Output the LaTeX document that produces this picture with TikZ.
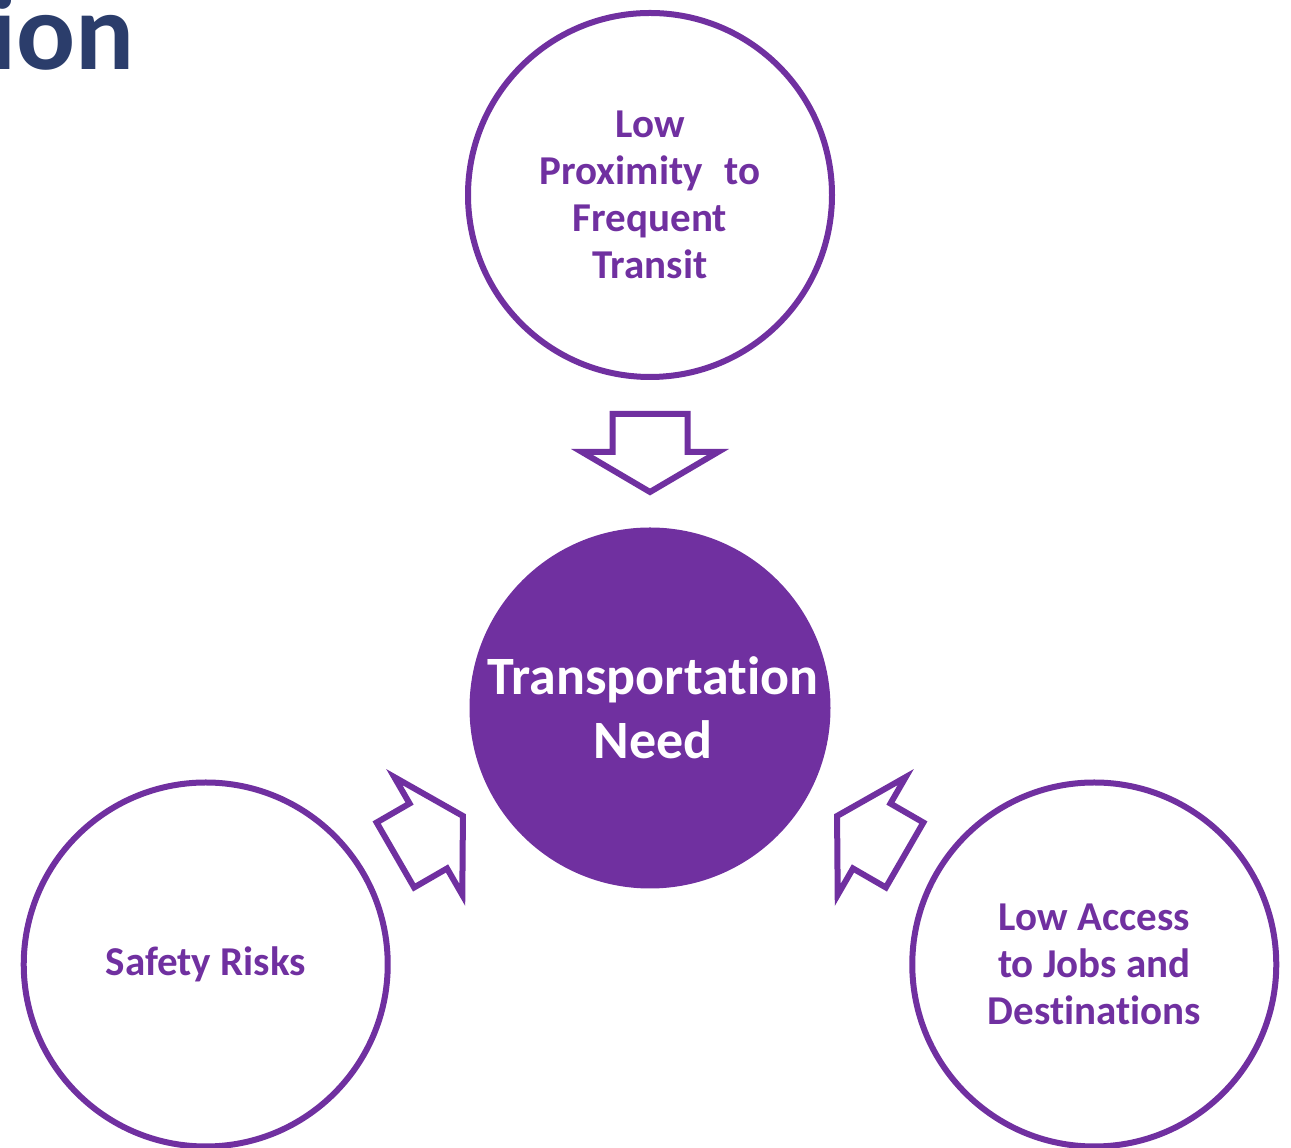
\documentclass[tikz,border=0pt]{standalone}
\usepackage{fontspec}
\setmainfont{Carlito}[Ligatures={NoCommon}]
\usetikzlibrary{calc}
\definecolor{ppl}{RGB}{112,48,160}
\definecolor{navy}{RGB}{43,61,107}
\begin{document}
\begin{tikzpicture}[x=1pt,y=1pt,
  outer/.style={circle, draw=ppl, line width=6pt, fill=white, minimum size=364pt, inner sep=0pt,
    text=ppl, font=\fontsize{41}{47}\selectfont\bfseries, align=center},
  hub/.style={circle, fill=ppl, minimum size=361pt, inner sep=0pt,
    text=white, font=\fontsize{54}{64}\selectfont\bfseries, align=center},
  blockarrow/.style={draw=ppl, line width=6pt, fill=white, line join=miter}]
\useasboundingbox (0,0) rectangle (1291,1148);
\node[anchor=base east, inner sep=0pt, text=navy, font=\fontsize{110}{110}\selectfont\bfseries] (title) at (135,1078) {ion};
\coordinate (C) at (650,440);
\node[hub] (hub) at (C) {\hspace*{6pt}Transportation\\\hspace*{6pt}Need};
\node[outer] (top) at ($(C)+(90:513)$) {Low\\Proximity\hspace{0.3em} to\\Frequent\\Transit};
\node[outer] (left) at ($(C)+(210:513)$) {Safety Risks};
\node[outer] (right) at ($(C)+(330:513)$) {Low Access\\to Jobs and\\Destinations};
\foreach \n/\a in {top/90,left/210,right/330}{
  \begin{scope}[shift={($(hub.center)!216pt!(\n.center)$)}, rotate=\a+180]
    \draw[blockarrow] (0,0) -- (-40,68) -- (-40,37.5) -- (-78,37.5) -- (-78,-37.5) -- (-40,-37.5) -- (-40,-68) -- cycle;
  \end{scope}
}
\end{tikzpicture}
\end{document}
